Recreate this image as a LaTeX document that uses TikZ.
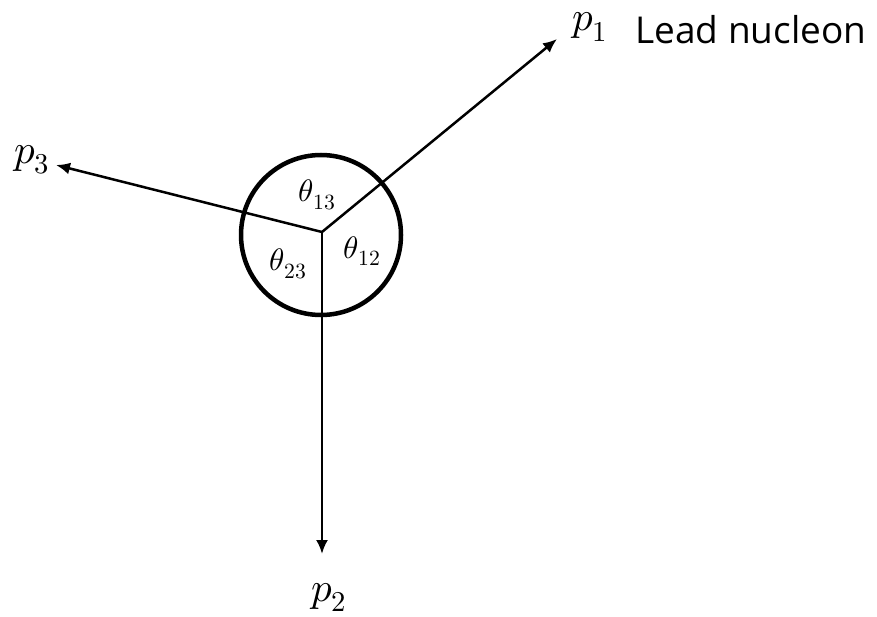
\documentclass[tikz,border=0pt]{standalone}
\usepackage{fontspec}
\usepackage{unicode-math}
\setmainfont{Open Sans}
\setmathfont{Latin Modern Math}
\usetikzlibrary{arrows.meta}
\begin{document}
\begin{tikzpicture}[x=1pt,y=-1pt,
  vec/.style={line width=2.5pt,-{Latex[length=14pt,width=12pt]}},
  ring/.style={draw,line width=4.5pt,circle,minimum size=160pt,inner sep=0pt},
  mlabel/.style={inner sep=0pt,font=\fontsize{41}{43}\selectfont},
  alabel/.style={inner sep=0pt,font=\fontsize{31}{33}\selectfont}]
\useasboundingbox (0,0) rectangle (877,617);
\coordinate (c) at (322,232);
\node[ring] (r) at (321,235) {};
\coordinate (t1) at (557,39);
\coordinate (t3) at (56,165);
\coordinate (t2) at (322,554);
\draw[vec] (c) -- (t1);
\draw[vec] (c) -- (t3);
\draw[vec] (c) -- (t2);
\node[mlabel] (p1) at (590,27) {$p_1$};
\node[mlabel] (p3) at (32,160) {$p_3$};
\node[mlabel] (p2) at (329,597) {$p_2$};
\node[anchor=base west,inner sep=0pt,font=\fontsize{37}{39}\selectfont] (lead) at (635,44) {Lead nucleon};
\node[alabel] (a13) at (317,195) {$\theta_{13}$};
\node[alabel] (a12) at (362,251) {$\theta_{12}$};
\node[alabel] (a23) at (288,264) {$\theta_{23}$};
\end{tikzpicture}
\end{document}
